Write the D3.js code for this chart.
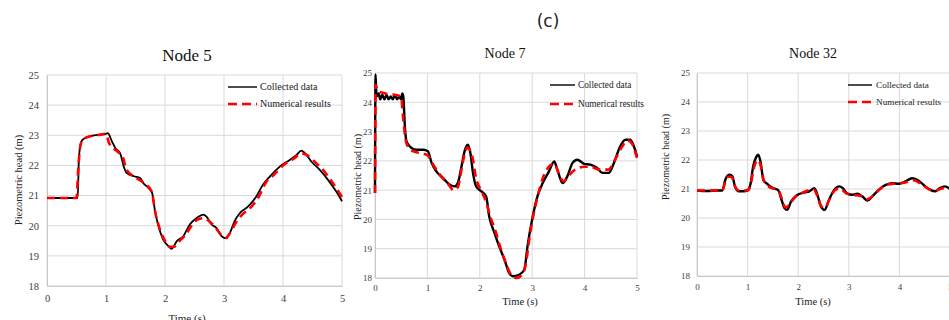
<!DOCTYPE html>
<html><head><meta charset="utf-8">
<script src="https://cdn.jsdelivr.net/npm/d3@7"></script>
<style>body{margin:0;background:#fff}svg{display:block}</style>
</head><body><svg id="c" width="949" height="320"></svg>
<script>
// ---------- data ----------
const xTicks = [0, 1, 2, 3, 4, 5];
const yTicks = [18, 19, 20, 21, 22, 23, 24, 25];
const titles = ["Node 5", "Node 7", "Node 32"];
const legendLabels = ["Collected data", "Numerical results"];

const node5Collected = [[0,20.92],[0.3,20.92],[0.52,20.92],[0.54,22.2],[0.56,22.6],[0.6,22.85],[0.7,22.95],[0.8,23.0],[0.9,23.02],[1.0,23.05],[1.03,23.07],[1.1,22.8],[1.16,22.57],[1.24,22.4],[1.3,21.97],[1.35,21.75],[1.47,21.64],[1.58,21.58],[1.63,21.42],[1.72,21.25],[1.78,21.1],[1.83,20.5],[1.89,19.98],[1.97,19.54],[2.06,19.32],[2.11,19.23],[2.2,19.49],[2.31,19.65],[2.42,20.04],[2.54,20.26],[2.65,20.37],[2.7,20.31],[2.79,20.04],[2.87,19.93],[2.96,19.65],[3.04,19.58],[3.1,19.76],[3.18,20.15],[3.27,20.42],[3.41,20.64],[3.55,20.98],[3.66,21.36],[3.78,21.64],[3.95,21.97],[4.12,22.19],[4.23,22.35],[4.31,22.49],[4.37,22.41],[4.48,22.13],[4.62,21.86],[4.76,21.53],[4.9,21.14],[5.0,20.81]];
const node5Numerical = [[0,20.92],[0.3,20.92],[0.5,20.92],[0.53,21.9],[0.57,22.7],[0.62,22.88],[0.7,22.95],[0.9,23.02],[1.0,23.05],[1.05,22.75],[1.2,22.45],[1.28,22.3],[1.35,21.85],[1.5,21.6],[1.65,21.4],[1.77,21.15],[1.84,20.4],[1.91,19.9],[2.0,19.5],[2.08,19.3],[2.15,19.3],[2.25,19.5],[2.35,19.7],[2.45,20.0],[2.55,20.2],[2.65,20.25],[2.75,20.15],[2.85,19.95],[2.95,19.7],[3.03,19.6],[3.1,19.75],[3.2,20.1],[3.3,20.35],[3.45,20.6],[3.6,21.0],[3.7,21.4],[3.85,21.7],[4.0,22.0],[4.2,22.25],[4.3,22.4],[4.4,22.35],[4.55,22.1],[4.7,21.8],[4.85,21.4],[5.0,20.95]];

const node7Collected = [[0,20.9],[0.01,24.95],[0.03,24.2],[0.07,24.3],[0.1,24.1],[0.14,24.25],[0.18,24.1],[0.22,24.25],[0.26,24.1],[0.3,24.2],[0.34,24.1],[0.38,24.25],[0.42,24.1],[0.46,24.2],[0.5,24.1],[0.52,24.3],[0.54,24.2],[0.57,23.18],[0.6,22.67],[0.66,22.5],[0.79,22.38],[0.92,22.38],[1.01,22.33],[1.08,21.93],[1.17,21.64],[1.3,21.41],[1.42,21.19],[1.52,21.13],[1.58,21.24],[1.65,21.8],[1.71,22.33],[1.77,22.55],[1.82,22.27],[1.87,21.59],[1.93,21.13],[2.03,20.96],[2.12,20.79],[2.18,20.1],[2.28,19.54],[2.37,19.08],[2.47,18.63],[2.56,18.17],[2.63,18.06],[2.75,18.11],[2.85,18.28],[2.91,19.08],[3.01,20.1],[3.1,20.79],[3.2,21.24],[3.32,21.64],[3.42,21.98],[3.48,21.7],[3.58,21.24],[3.67,21.47],[3.77,21.93],[3.86,22.04],[3.99,21.9],[4.11,21.87],[4.24,21.76],[4.34,21.59],[4.46,21.59],[4.56,21.93],[4.68,22.5],[4.78,22.72],[4.87,22.72],[4.94,22.5],[5.0,22.15]];
const node7Numerical = [[0,20.9],[0.01,24.6],[0.05,24.4],[0.2,24.3],[0.4,24.25],[0.5,24.2],[0.53,23.6],[0.6,22.6],[0.7,22.35],[0.9,22.25],[1.0,22.2],[1.1,21.9],[1.25,21.5],[1.4,21.2],[1.5,21.0],[1.58,21.1],[1.65,21.7],[1.72,22.3],[1.76,22.45],[1.85,22.2],[1.93,21.4],[2.02,21.0],[2.12,20.6],[2.2,20.1],[2.3,19.6],[2.4,19.0],[2.5,18.5],[2.6,18.1],[2.7,18.0],[2.8,18.1],[2.88,18.5],[2.95,19.4],[3.03,20.2],[3.12,20.9],[3.2,21.4],[3.32,21.8],[3.42,21.9],[3.52,21.5],[3.6,21.3],[3.7,21.5],[3.82,21.7],[4.0,21.8],[4.1,21.8],[4.3,21.7],[4.45,21.7],[4.6,22.1],[4.72,22.5],[4.82,22.7],[4.9,22.6],[5.0,22.1]];

const node32Collected = [[0,20.95],[0.2,20.93],[0.4,20.95],[0.5,20.95],[0.56,21.32],[0.6,21.45],[0.65,21.49],[0.7,21.43],[0.75,21.09],[0.82,20.92],[0.92,20.92],[1.01,20.97],[1.06,21.2],[1.11,21.78],[1.16,22.06],[1.21,22.18],[1.26,21.9],[1.31,21.32],[1.37,21.2],[1.5,21.03],[1.6,20.97],[1.67,20.63],[1.73,20.34],[1.78,20.28],[1.86,20.57],[1.99,20.8],[2.12,20.88],[2.22,20.92],[2.32,21.03],[2.39,20.74],[2.45,20.4],[2.52,20.28],[2.61,20.63],[2.71,20.97],[2.81,21.09],[2.88,21.03],[2.97,20.84],[3.07,20.8],[3.17,20.84],[3.27,20.74],[3.37,20.6],[3.46,20.74],[3.59,20.97],[3.73,21.14],[3.86,21.2],[3.99,21.18],[4.12,21.26],[4.25,21.37],[4.35,21.32],[4.48,21.14],[4.61,20.97],[4.71,20.92],[4.8,21.03],[4.9,21.09],[5.0,21.0]];
const node32Numerical = [[0,20.95],[0.5,20.95],[0.56,21.25],[0.62,21.42],[0.68,21.42],[0.75,21.1],[0.82,20.95],[1.0,20.95],[1.06,21.15],[1.12,21.7],[1.2,22.0],[1.26,21.8],[1.32,21.3],[1.45,21.05],[1.6,20.98],[1.68,20.65],[1.75,20.36],[1.82,20.45],[1.95,20.75],[2.1,20.88],[2.3,21.0],[2.38,20.75],[2.45,20.42],[2.52,20.35],[2.62,20.65],[2.72,20.95],[2.82,21.02],[2.95,20.85],[3.1,20.8],[3.25,20.75],[3.37,20.65],[3.5,20.8],[3.62,21.0],[3.75,21.15],[3.9,21.18],[4.1,21.22],[4.28,21.3],[4.45,21.15],[4.6,20.98],[4.72,20.95],[4.85,21.02],[5.0,21.0]];

const collectedSeries = [node5Collected, node7Collected, node32Collected];
const numericalSeries = [node5Numerical, node7Numerical, node32Numerical];

// ---------- layout ----------
const panels = [
  {l:47, r:342, t:75, b:286, title:[187,61,17], tickFs:10.5, tickDx:-8, xTickY:302, ylab:[18,180,10.5], xlab:[187,322,11],
   leg:{x1:228,x2:257,y1:87,y2:104,tx:260,fs:10}, blackW:1.8},
  {l:375, r:637, t:73, b:278, title:[505,58,14], tickFs:9, tickDx:-3, xTickY:291, ylab:[357,177,10], xlab:[520,305,10.5],
   leg:{x1:550,x2:575,y1:85,y2:104,tx:578,fs:9.3}, blackW:2.4},
  {l:697, r:950, t:73, b:276, title:[813,58,14], tickFs:9, tickDx:-7, xTickY:290, ylab:[665,157,10], xlab:[813,305,10.5],
   leg:{x1:848,x2:872,y1:85,y2:102,tx:876,fs:9.2}, blackW:2.4}
];

const svg = d3.select("#c");
const serif = "'Liberation Serif','Times New Roman',serif";
const fmt = d3.format("d");

svg.append("text").attr("x", 548).attr("y", 27).attr("text-anchor","middle")
  .attr("font-family","'DejaVu Sans',sans-serif").attr("font-size",17).attr("fill","#222").text("(c)");

panels.forEach((p, i) => {
  const x = d3.scaleLinear().domain([0,5]).range([p.l, p.r]);
  const y = d3.scaleLinear().domain([18,25]).range([p.b, p.t]);
  const g = svg.append("g");

  // grid
  g.selectAll(".vg").data(xTicks).join("line")
    .attr("x1", d=>x(d)).attr("x2", d=>x(d)).attr("y1", p.t).attr("y2", p.b)
    .attr("stroke", "#d9d9d9").attr("stroke-width", 1);
  g.selectAll(".hg").data(yTicks).join("line")
    .attr("x1", p.l).attr("x2", p.r).attr("y1", d=>y(d)).attr("y2", d=>y(d))
    .attr("stroke", "#d9d9d9").attr("stroke-width", 1);

  // axes
  const ax = d3.axisBottom(x).tickValues(xTicks).tickFormat(fmt).tickSize(0).tickPadding(0);
  const gx = g.append("g").attr("transform", `translate(0,${p.b})`).call(ax)
    .attr("font-family", serif).attr("font-size", p.tickFs);
  gx.select(".domain").attr("stroke","#c8c8c8");
  gx.selectAll("text").attr("y", p.xTickY - p.b).attr("dy", 0).attr("fill","#404040");

  const ay = d3.axisLeft(y).tickValues(yTicks).tickFormat(fmt).tickSize(0).tickPadding(0);
  const gy = g.append("g").attr("transform", `translate(${p.l},0)`).call(ay)
    .attr("font-family", serif).attr("font-size", p.tickFs);
  gy.select(".domain").attr("stroke","#c8c8c8");
  gy.selectAll("text").attr("x", p.tickDx).attr("dy","0.32em").attr("fill","#404040");

  // title & labels
  g.append("text").attr("x", p.title[0]).attr("y", p.title[1]).attr("text-anchor","middle")
    .attr("font-family", serif).attr("font-size", p.title[2]).attr("fill","#111").text(titles[i]);
  g.append("text").attr("transform", `translate(${p.ylab[0]},${p.ylab[1]}) rotate(-90)`)
    .attr("text-anchor","middle").attr("dy","0.35em")
    .attr("font-family", serif).attr("font-size", p.ylab[2]).attr("fill","#222").text("Piezometric head (m)");
  g.append("text").attr("x", p.xlab[0]).attr("y", p.xlab[1]).attr("text-anchor","middle")
    .attr("font-family", serif).attr("font-size", p.xlab[2]).attr("fill","#222").text("Time (s)");

  // lines
  const line = d3.line().x(d=>x(d[0])).y(d=>y(d[1])).curve(d3.curveMonotoneX);
  g.append("path").datum(collectedSeries[i]).attr("d", line)
    .attr("fill","none").attr("stroke","#000").attr("stroke-width", p.blackW).attr("stroke-linejoin","round");
  g.append("path").datum(numericalSeries[i]).attr("d", line)
    .attr("fill","none").attr("stroke","#ff0000").attr("stroke-width", 2.6).attr("stroke-dasharray","8,5");

  // legend
  const L = p.leg;
  g.append("line").attr("x1",L.x1).attr("x2",L.x2).attr("y1",L.y1).attr("y2",L.y1).attr("stroke","#000").attr("stroke-width",1.4);
  g.append("line").attr("x1",L.x1).attr("x2",L.x2).attr("y1",L.y2).attr("y2",L.y2).attr("stroke","#ff0000").attr("stroke-width",2.6).attr("stroke-dasharray","9,5");
  g.append("text").attr("x",L.tx).attr("y",L.y1).attr("dy","0.33em").attr("font-family",serif).attr("font-size",L.fs).attr("fill","#222").text(legendLabels[0]);
  g.append("text").attr("x",L.tx).attr("y",L.y2).attr("dy","0.33em").attr("font-family",serif).attr("font-size",L.fs).attr("fill","#222").text(legendLabels[1]);
});
</script></body></html>
